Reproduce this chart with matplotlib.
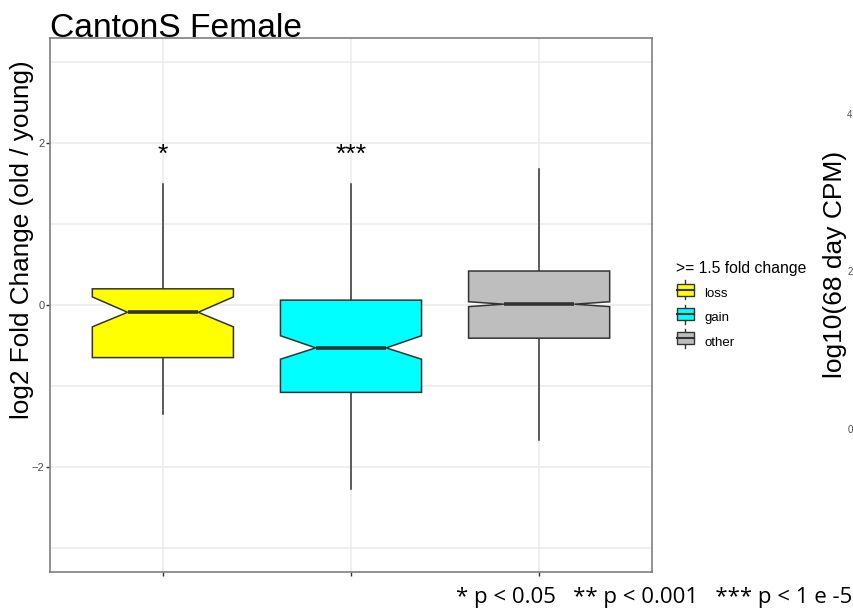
import matplotlib
matplotlib.use("Agg")
import matplotlib.pyplot as plt
from matplotlib.legend_handler import HandlerBase
from matplotlib.patches import Rectangle
from matplotlib.lines import Line2D

# data
groups = ["loss", "gain", "other"]
colors = ["#ffff00", "#00ffff", "#bebebe"]
q1 = [-0.65, -1.08, -0.41]
med = [-0.09, -0.53, 0.01]
q3 = [0.20, 0.06, 0.42]
whislo = [-1.35, -2.28, -1.67]
whishi = [1.49, 1.49, 1.68]
notch_lo = [-0.27, -0.67, -0.02]
notch_hi = [0.10, -0.38, 0.04]
signif = ["*", "***", ""]
sig_y = [1.86, 1.86, 1.86]
yticks = [-2, 0, 2]
right_ticks = ["4", "2", "0"]

plt.rcParams['font.family'] = ['Liberation Sans', 'DejaVu Sans']

fig = plt.figure(figsize=(8.54, 6.15), dpi=100)
ax = fig.add_axes([50/854, 1-572/615, 602/854, 534/615])

stats = []
for i in range(len(groups)):
    stats.append(dict(med=med[i], q1=q1[i], q3=q3[i], whislo=whislo[i], whishi=whishi[i],
                      cilo=notch_lo[i], cihi=notch_hi[i], fliers=[], label=groups[i]))

bp = ax.bxp(stats, positions=[1, 2, 3], widths=0.75, shownotches=True, patch_artist=True,
            showcaps=False, showfliers=False,
            boxprops=dict(edgecolor="#333333", linewidth=1.1),
            whiskerprops=dict(color="#333333", linewidth=1.1),
            medianprops=dict(color="#333333", linewidth=2.6, solid_capstyle="butt"))
for patch, c in zip(bp["boxes"], colors):
    patch.set_facecolor(c)
    patch.set_zorder(3)
for w in bp["whiskers"]:
    w.set_zorder(2)
for m in bp["medians"]:
    m.set_zorder(4)

for i, s in enumerate(signif):
    if s:
        ax.text(i + 1, sig_y[i], s, ha="center", va="center", fontsize=19, color="black")

ax.set_xlim(0.4, 3.6)
ax.set_ylim(-3.3, 3.3)
ax.set_yticks(yticks)
ax.set_yticklabels(["\u22122", "0", "2"])
ax.set_yticks([-3, -1, 1, 3], minor=True)
ax.set_xticks([1, 2, 3])
ax.set_xticklabels(["", "", ""])
ax.grid(True, which="both", color="#ebebeb", linewidth=1.1, zorder=0)
ax.set_axisbelow(True)
ax.tick_params(axis="both", which="major", length=3, width=1, color="#333333",
               labelsize=8, labelcolor="#4d4d4d", pad=1)
ax.tick_params(axis="y", which="minor", length=0)
for sp in ax.spines.values():
    sp.set_color("#7f7f7f")
    sp.set_linewidth(1.2)

# title and labels
fig.text(50/854, 1-37/615, "CantonS Female", fontsize=24.2, ha="left", va="baseline")
fig.text(22/854, 1-240/615, "log2 Fold Change (old / young)", fontsize=18.8, rotation=90,
         ha="center", va="center")
fig.text(835/854, 1-264/615, "log10(68 day CPM)", fontsize=19, rotation=90,
         ha="center", va="center")
for t, yp in zip(right_ticks, [115, 272, 430]):
    fig.text(850/854, 1-yp/615, t, fontsize=7, color="#4d4d4d", ha="center", va="center")

fig.text(852/854, 1-597/615, "* p < 0.05   ** p < 0.001   *** p < 1 e -5",
         fontsize=16, family=["Open Sans", "DejaVu Sans"], ha="right", va="center")


class BoxKey(HandlerBase):
    def create_artists(self, legend, orig, xd, yd, w, h, fontsize, trans):
        cx = xd + w / 2
        r = Rectangle((xd + w*0.05, yd), w*0.9, h, facecolor=orig.get_facecolor(),
                      edgecolor="#333333", lw=1, transform=trans)
        vl = Line2D([cx, cx], [yd - h*0.3, yd + h*1.3], color="#333333", lw=1, transform=trans)
        hl = Line2D([xd + w*0.05, xd + w*0.95], [yd + h/2, yd + h/2], color="#333333", lw=1.5,
                    transform=trans)
        return [vl, r, hl]


handles = [Rectangle((0, 0), 1, 1, facecolor=c) for c in colors]
leg = fig.legend(handles, groups, handler_map={Rectangle: BoxKey()},
                 loc="upper left", bbox_to_anchor=(664/854, 1-249/615),
                 title=">= 1.5 fold change", title_fontsize=11.3, fontsize=9.5,
                 frameon=False, handlelength=1.45, handleheight=1.0, labelspacing=0.82,
                 handletextpad=0.7)
leg._legend_box.align = "left"

fig.savefig("out.png", dpi=100)
